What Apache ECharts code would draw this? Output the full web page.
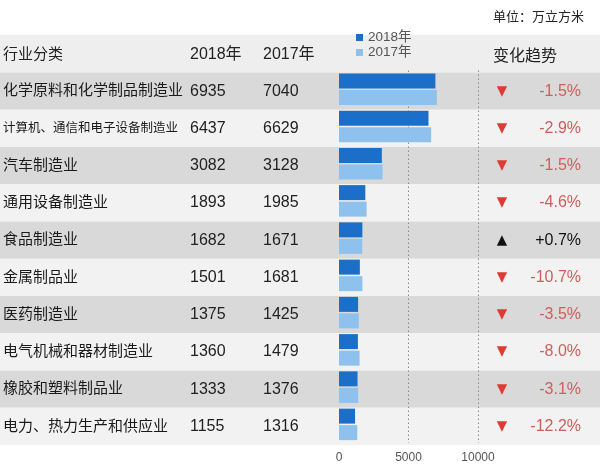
<!DOCTYPE html>
<html>
<head>
<meta charset="utf-8">
<script src="https://cdn.jsdelivr.net/npm/echarts@6/dist/echarts.min.js"></script>
<style>html,body{margin:0;padding:0;background:#fff;}#c{width:600px;height:472px;}</style>
</head>
<body>
<div id="c"></div>
<script>
var categories = ['化学原料和化学制品制造业','计算机、通信和电子设备制造业','汽车制造业','通用设备制造业','食品制造业','金属制品业','医药制造业','电气机械和器材制造业','橡胶和塑料制品业','电力、热力生产和供应业'];
var v2018 = [6935, 6437, 3082, 1893, 1682, 1501, 1375, 1360, 1333, 1155];
var v2017 = [7040, 6629, 3128, 1985, 1671, 1681, 1425, 1479, 1376, 1316];
var changePct = [-1.5, -2.9, -1.5, -4.6, 0.7, -10.7, -3.5, -8.0, -3.1, -12.2];
var xTicks = [0, 5000, 10000];

var FONT = "'Liberation Sans','Noto Sans CJK SC',sans-serif";
var chart = echarts.init(document.getElementById('c'), null, {renderer:'canvas'});

function fmtPct(v){ return (v > 0 ? '+' : '') + v.toFixed(1) + '%'; }

var option = {
  backgroundColor: '#ffffff',
  animation: false,
  textStyle: {fontFamily: FONT},
  legend: {
    data: ['2018年','2017年'],
    orient: 'vertical',
    left: 356, top: 30,
    itemWidth: 7, itemHeight: 7, itemGap: 0,
    icon: 'rect', padding: 0,
    textStyle: {fontSize: 13.5, color: '#555', fontFamily: FONT, lineHeight: 15},
    z: 10
  },
  graphic: [
    {type:'rect', shape:{x:0, y:35, width:600, height:37.5}, style:{fill:'#eeeeee'}, z:-5, silent:true},
    {type:'text', x:493, y:17, style:{text:'单位：万立方米', font:'13px ' + FONT, fill:'#222', textVerticalAlign:'middle'}, z:5},
    {type:'text', x:3, y:55, style:{text:'行业分类', font:'15px ' + FONT, fill:'#222', textVerticalAlign:'middle'}, z:5},
    {type:'text', x:190, y:55, style:{text:'2018年', font:'16px ' + FONT, fill:'#222', textVerticalAlign:'middle'}, z:5},
    {type:'text', x:263, y:55, style:{text:'2017年', font:'16px ' + FONT, fill:'#222', textVerticalAlign:'middle'}, z:5},
    {type:'text', x:493, y:57, style:{text:'变化趋势', font:'16px ' + FONT, fill:'#222', textVerticalAlign:'middle'}, z:5}
  ],
  grid: [
    {left:0, right:0, top:72.5, height:372.5},
    {left:339, width:139, top:70.5, height:372.5}
  ],
  xAxis: [
    {gridIndex:0, type:'value', show:false, min:0, max:1},
    {gridIndex:1, type:'value', min:xTicks[0], max:xTicks[xTicks.length-1], interval:xTicks[1]-xTicks[0],
     axisLine:{show:false}, axisTick:{show:false},
     axisLabel:{fontSize:12, color:'#555', margin:9, fontFamily:FONT, formatter:function(v){ return String(v); }},
     splitLine:{show:true, showMinLine:false, lineStyle:{type:[1.5,2.5], color:'#8a8a8a', width:1}},
     z:3}
  ],
  yAxis: [
    {gridIndex:0, type:'category', inverse:true, data:categories, position:'left',
     axisLine:{show:false}, axisTick:{show:false},
     splitArea:{show:true, areaStyle:{color:['#d9d9d9','#f2f2f2']}},
     splitLine:{show:false},
     axisLabel:{inside:true, interval:0, margin:3,
       formatter:function(val, idx){
         var nameStyle = val.length > 12 ? 's' : 'n';
         return '{' + nameStyle + '|' + val + '}{a|' + v2018[idx] + '}{b|' + v2017[idx] + '}';
       },
       rich:{
         n:{width:187, fontSize:15, color:'#1a1a1a', fontFamily:FONT},
         s:{width:187, fontSize:12.5, color:'#1a1a1a', fontFamily:FONT},
         a:{width:73, fontSize:16, color:'#222', fontFamily:FONT},
         b:{width:60, fontSize:16, color:'#222', fontFamily:FONT}
       }
     },
     z:0},
    {gridIndex:0, type:'category', inverse:true, data:categories, position:'right',
     axisLine:{show:false}, axisTick:{show:false}, splitLine:{show:false},
     axisLabel:{inside:true, interval:0, margin:19,
       formatter:function(val, idx){
         var c = changePct[idx];
         if (c >= 0) return '{ut|▲}{up|' + fmtPct(c) + '}';
         return '{dt|▼}{dp|' + fmtPct(c) + '}';
       },
       rich:{
         dt:{width:18, align:'center', fontSize:13.5, color:'#e03b33', fontFamily:'DejaVu Sans'},
         ut:{width:18, align:'center', fontSize:13.5, color:'#111', fontFamily:'DejaVu Sans'},
         dp:{width:70, align:'right', fontSize:16, color:'#cc5f5c', fontFamily:FONT},
         up:{width:70, align:'right', fontSize:16, color:'#111', fontFamily:FONT}
       }
     },
     z:0},
    {gridIndex:1, type:'category', inverse:true, data:categories, show:false}
  ],
  series: [
    {name:'2018年', type:'bar', xAxisIndex:1, yAxisIndex:2, data:v2018, barWidth:15, barGap:'10%',
     itemStyle:{color:'#1b6fc8'}, z:4},
    {name:'2017年', type:'bar', xAxisIndex:1, yAxisIndex:2, data:v2017, barWidth:15, barGap:'10%',
     itemStyle:{color:'#8fc1ee'}, z:4}
  ]
};
chart.setOption(option);
</script>
</body>
</html>
